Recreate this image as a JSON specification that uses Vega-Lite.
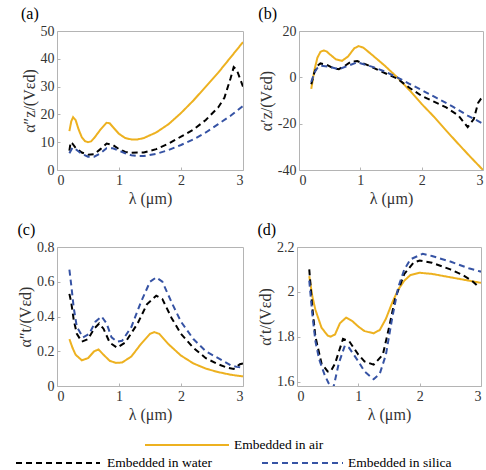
{
  "$schema": "https://vega.github.io/schema/vega-lite/v6.json",
  "padding": {"left": 15, "right": 1, "top": 5, "bottom": 0},
  "background": "white",
  "config": {
    "font": "Liberation Serif, serif",
    "view": {"stroke": "#b4b4b4", "strokeWidth": 1},
    "axis": {
      "domain": false,
      "grid": false,
      "ticks": true,
      "tickSize": -3,
      "tickColor": "#b4b4b4",
      "labelPadding": 6,
      "labelFont": "Liberation Serif, serif",
      "labelFontSize": 14,
      "labelColor": "#333333",
      "titleFont": "Liberation Serif, serif",
      "titleFontSize": 16,
      "titleFontWeight": "normal",
      "titleColor": "#333333",
      "titlePadding": 3
    },
    "title": {"font": "Liberation Serif, serif", "fontSize": 16, "fontWeight": "normal", "anchor": "start", "offset": 2, "color": "#000000"},
    "concat": {"spacing": 14}
  },
  "datasets": {
    "a": [
      {"x":0.2,"y":14,"s":"air"},{"x":0.23,"y":17.5,"s":"air"},{"x":0.26,"y":19,"s":"air"},{"x":0.3,"y":18,"s":"air"},{"x":0.35,"y":14.5,"s":"air"},{"x":0.4,"y":11.8,"s":"air"},{"x":0.45,"y":10.4,"s":"air"},{"x":0.5,"y":10,"s":"air"},{"x":0.55,"y":10.3,"s":"air"},{"x":0.6,"y":11.5,"s":"air"},{"x":0.7,"y":14.5,"s":"air"},{"x":0.8,"y":17,"s":"air"},{"x":0.85,"y":16.8,"s":"air"},{"x":0.9,"y":15.5,"s":"air"},{"x":1.0,"y":13,"s":"air"},{"x":1.1,"y":11.5,"s":"air"},{"x":1.2,"y":11,"s":"air"},{"x":1.3,"y":11,"s":"air"},{"x":1.4,"y":11.5,"s":"air"},{"x":1.5,"y":12.5,"s":"air"},{"x":1.6,"y":13.5,"s":"air"},{"x":1.8,"y":16.5,"s":"air"},{"x":2.0,"y":20.5,"s":"air"},{"x":2.2,"y":25,"s":"air"},{"x":2.4,"y":30,"s":"air"},{"x":2.6,"y":35,"s":"air"},{"x":2.8,"y":40.5,"s":"air"},{"x":3.0,"y":46,"s":"air"},
      {"x":0.2,"y":7,"s":"water"},{"x":0.22,"y":10,"s":"water"},{"x":0.25,"y":9.5,"s":"water"},{"x":0.3,"y":8,"s":"water"},{"x":0.4,"y":6.3,"s":"water"},{"x":0.5,"y":5.5,"s":"water"},{"x":0.6,"y":5.7,"s":"water"},{"x":0.7,"y":7.5,"s":"water"},{"x":0.8,"y":9.5,"s":"water"},{"x":0.9,"y":9,"s":"water"},{"x":1.0,"y":7.5,"s":"water"},{"x":1.1,"y":6.5,"s":"water"},{"x":1.2,"y":6.2,"s":"water"},{"x":1.4,"y":6.3,"s":"water"},{"x":1.6,"y":7.5,"s":"water"},{"x":1.8,"y":9.5,"s":"water"},{"x":2.0,"y":12,"s":"water"},{"x":2.2,"y":14.5,"s":"water"},{"x":2.4,"y":18,"s":"water"},{"x":2.6,"y":22.5,"s":"water"},{"x":2.7,"y":26,"s":"water"},{"x":2.8,"y":33,"s":"water"},{"x":2.85,"y":37,"s":"water"},{"x":2.9,"y":36,"s":"water"},{"x":2.95,"y":33,"s":"water"},{"x":3.0,"y":30,"s":"water"},
      {"x":0.2,"y":6,"s":"silica"},{"x":0.25,"y":8,"s":"silica"},{"x":0.3,"y":7.5,"s":"silica"},{"x":0.4,"y":5.8,"s":"silica"},{"x":0.5,"y":4.8,"s":"silica"},{"x":0.6,"y":4.8,"s":"silica"},{"x":0.7,"y":6,"s":"silica"},{"x":0.8,"y":7.8,"s":"silica"},{"x":0.9,"y":7.8,"s":"silica"},{"x":1.0,"y":7,"s":"silica"},{"x":1.1,"y":6,"s":"silica"},{"x":1.2,"y":5.3,"s":"silica"},{"x":1.3,"y":5,"s":"silica"},{"x":1.4,"y":5,"s":"silica"},{"x":1.6,"y":5.8,"s":"silica"},{"x":1.8,"y":7.2,"s":"silica"},{"x":2.0,"y":9,"s":"silica"},{"x":2.2,"y":11,"s":"silica"},{"x":2.4,"y":13.5,"s":"silica"},{"x":2.6,"y":16.5,"s":"silica"},{"x":2.8,"y":19.5,"s":"silica"},{"x":3.0,"y":23,"s":"silica"}
    ],
    "b": [
      {"x":0.2,"y":-5,"s":"air"},{"x":0.25,"y":3,"s":"air"},{"x":0.3,"y":8.5,"s":"air"},{"x":0.35,"y":11,"s":"air"},{"x":0.4,"y":11.6,"s":"air"},{"x":0.45,"y":11.2,"s":"air"},{"x":0.5,"y":10,"s":"air"},{"x":0.6,"y":7.8,"s":"air"},{"x":0.7,"y":7.1,"s":"air"},{"x":0.8,"y":9,"s":"air"},{"x":0.9,"y":12.5,"s":"air"},{"x":0.97,"y":13.5,"s":"air"},{"x":1.05,"y":12.8,"s":"air"},{"x":1.2,"y":9.5,"s":"air"},{"x":1.4,"y":5,"s":"air"},{"x":1.6,"y":0,"s":"air"},{"x":1.8,"y":-5.5,"s":"air"},{"x":2.0,"y":-11.5,"s":"air"},{"x":2.2,"y":-17,"s":"air"},{"x":2.4,"y":-23,"s":"air"},{"x":2.6,"y":-28.8,"s":"air"},{"x":2.8,"y":-34.5,"s":"air"},{"x":3.0,"y":-40,"s":"air"},
      {"x":0.2,"y":-3,"s":"water"},{"x":0.25,"y":2,"s":"water"},{"x":0.3,"y":5,"s":"water"},{"x":0.35,"y":6,"s":"water"},{"x":0.45,"y":5.5,"s":"water"},{"x":0.55,"y":4,"s":"water"},{"x":0.65,"y":3.5,"s":"water"},{"x":0.75,"y":5,"s":"water"},{"x":0.85,"y":6.8,"s":"water"},{"x":0.95,"y":7,"s":"water"},{"x":1.1,"y":5.5,"s":"water"},{"x":1.3,"y":3,"s":"water"},{"x":1.6,"y":-0.5,"s":"water"},{"x":1.8,"y":-4.5,"s":"water"},{"x":2.0,"y":-8,"s":"water"},{"x":2.2,"y":-10.5,"s":"water"},{"x":2.4,"y":-13,"s":"water"},{"x":2.6,"y":-16.5,"s":"water"},{"x":2.75,"y":-21.5,"s":"water"},{"x":2.85,"y":-18,"s":"water"},{"x":2.92,"y":-11,"s":"water"},{"x":2.96,"y":-9.5,"s":"water"},{"x":3.0,"y":-10.5,"s":"water"},
      {"x":0.2,"y":-2,"s":"silica"},{"x":0.25,"y":2,"s":"silica"},{"x":0.3,"y":4,"s":"silica"},{"x":0.35,"y":5,"s":"silica"},{"x":0.5,"y":4.5,"s":"silica"},{"x":0.65,"y":3.5,"s":"silica"},{"x":0.8,"y":5,"s":"silica"},{"x":0.95,"y":6.5,"s":"silica"},{"x":1.2,"y":4.5,"s":"silica"},{"x":1.4,"y":2.5,"s":"silica"},{"x":1.6,"y":0,"s":"silica"},{"x":1.8,"y":-2.8,"s":"silica"},{"x":2.0,"y":-5.5,"s":"silica"},{"x":2.25,"y":-9,"s":"silica"},{"x":2.5,"y":-12.5,"s":"silica"},{"x":2.75,"y":-16.5,"s":"silica"},{"x":3.0,"y":-20,"s":"silica"}
    ],
    "c": [
      {"x":0.2,"y":0.27,"s":"air"},{"x":0.25,"y":0.22,"s":"air"},{"x":0.3,"y":0.18,"s":"air"},{"x":0.4,"y":0.148,"s":"air"},{"x":0.5,"y":0.16,"s":"air"},{"x":0.6,"y":0.2,"s":"air"},{"x":0.67,"y":0.21,"s":"air"},{"x":0.75,"y":0.18,"s":"air"},{"x":0.85,"y":0.145,"s":"air"},{"x":0.95,"y":0.133,"s":"air"},{"x":1.05,"y":0.135,"s":"air"},{"x":1.2,"y":0.17,"s":"air"},{"x":1.35,"y":0.24,"s":"air"},{"x":1.5,"y":0.3,"s":"air"},{"x":1.57,"y":0.31,"s":"air"},{"x":1.65,"y":0.3,"s":"air"},{"x":1.8,"y":0.24,"s":"air"},{"x":2.0,"y":0.175,"s":"air"},{"x":2.2,"y":0.13,"s":"air"},{"x":2.4,"y":0.1,"s":"air"},{"x":2.6,"y":0.08,"s":"air"},{"x":2.8,"y":0.065,"s":"air"},{"x":3.0,"y":0.055,"s":"air"},
      {"x":0.2,"y":0.53,"s":"water"},{"x":0.23,"y":0.48,"s":"water"},{"x":0.27,"y":0.38,"s":"water"},{"x":0.32,"y":0.3,"s":"water"},{"x":0.4,"y":0.255,"s":"water"},{"x":0.5,"y":0.27,"s":"water"},{"x":0.6,"y":0.33,"s":"water"},{"x":0.68,"y":0.36,"s":"water"},{"x":0.75,"y":0.33,"s":"water"},{"x":0.85,"y":0.25,"s":"water"},{"x":0.97,"y":0.22,"s":"water"},{"x":1.1,"y":0.25,"s":"water"},{"x":1.3,"y":0.36,"s":"water"},{"x":1.45,"y":0.47,"s":"water"},{"x":1.6,"y":0.52,"s":"water"},{"x":1.7,"y":0.5,"s":"water"},{"x":1.85,"y":0.39,"s":"water"},{"x":2.0,"y":0.3,"s":"water"},{"x":2.2,"y":0.22,"s":"water"},{"x":2.4,"y":0.16,"s":"water"},{"x":2.6,"y":0.125,"s":"water"},{"x":2.75,"y":0.105,"s":"water"},{"x":2.85,"y":0.098,"s":"water"},{"x":2.95,"y":0.125,"s":"water"},{"x":3.0,"y":0.13,"s":"water"},
      {"x":0.2,"y":0.67,"s":"silica"},{"x":0.23,"y":0.58,"s":"silica"},{"x":0.27,"y":0.45,"s":"silica"},{"x":0.32,"y":0.34,"s":"silica"},{"x":0.42,"y":0.28,"s":"silica"},{"x":0.52,"y":0.3,"s":"silica"},{"x":0.62,"y":0.37,"s":"silica"},{"x":0.72,"y":0.4,"s":"silica"},{"x":0.8,"y":0.36,"s":"silica"},{"x":0.88,"y":0.28,"s":"silica"},{"x":0.97,"y":0.255,"s":"silica"},{"x":1.05,"y":0.26,"s":"silica"},{"x":1.2,"y":0.34,"s":"silica"},{"x":1.35,"y":0.48,"s":"silica"},{"x":1.5,"y":0.6,"s":"silica"},{"x":1.6,"y":0.625,"s":"silica"},{"x":1.7,"y":0.6,"s":"silica"},{"x":1.85,"y":0.48,"s":"silica"},{"x":2.0,"y":0.37,"s":"silica"},{"x":2.2,"y":0.27,"s":"silica"},{"x":2.4,"y":0.2,"s":"silica"},{"x":2.6,"y":0.16,"s":"silica"},{"x":2.8,"y":0.12,"s":"silica"},{"x":2.9,"y":0.11,"s":"silica"},{"x":3.0,"y":0.105,"s":"silica"}
    ],
    "d": [
      {"x":0.2,"y":2.07,"s":"air"},{"x":0.25,"y":1.98,"s":"air"},{"x":0.3,"y":1.92,"s":"air"},{"x":0.4,"y":1.84,"s":"air"},{"x":0.5,"y":1.805,"s":"air"},{"x":0.55,"y":1.8,"s":"air"},{"x":0.62,"y":1.81,"s":"air"},{"x":0.7,"y":1.86,"s":"air"},{"x":0.8,"y":1.885,"s":"air"},{"x":0.9,"y":1.87,"s":"air"},{"x":1.0,"y":1.845,"s":"air"},{"x":1.1,"y":1.825,"s":"air"},{"x":1.25,"y":1.815,"s":"air"},{"x":1.35,"y":1.83,"s":"air"},{"x":1.45,"y":1.88,"s":"air"},{"x":1.55,"y":1.95,"s":"air"},{"x":1.65,"y":2.01,"s":"air"},{"x":1.75,"y":2.05,"s":"air"},{"x":1.85,"y":2.075,"s":"air"},{"x":2.0,"y":2.085,"s":"air"},{"x":2.2,"y":2.08,"s":"air"},{"x":2.4,"y":2.07,"s":"air"},{"x":2.6,"y":2.06,"s":"air"},{"x":2.8,"y":2.05,"s":"air"},{"x":3.0,"y":2.04,"s":"air"},
      {"x":0.2,"y":2.1,"s":"water"},{"x":0.25,"y":1.93,"s":"water"},{"x":0.3,"y":1.8,"s":"water"},{"x":0.4,"y":1.68,"s":"water"},{"x":0.5,"y":1.645,"s":"water"},{"x":0.55,"y":1.645,"s":"water"},{"x":0.62,"y":1.68,"s":"water"},{"x":0.75,"y":1.79,"s":"water"},{"x":0.85,"y":1.78,"s":"water"},{"x":1.0,"y":1.72,"s":"water"},{"x":1.1,"y":1.69,"s":"water"},{"x":1.25,"y":1.675,"s":"water"},{"x":1.4,"y":1.72,"s":"water"},{"x":1.5,"y":1.84,"s":"water"},{"x":1.6,"y":1.97,"s":"water"},{"x":1.75,"y":2.08,"s":"water"},{"x":1.9,"y":2.13,"s":"water"},{"x":2.0,"y":2.14,"s":"water"},{"x":2.2,"y":2.13,"s":"water"},{"x":2.5,"y":2.1,"s":"water"},{"x":2.7,"y":2.075,"s":"water"},{"x":2.85,"y":2.05,"s":"water"},{"x":2.95,"y":2.025,"s":"water"},
      {"x":0.2,"y":2.05,"s":"silica"},{"x":0.25,"y":1.9,"s":"silica"},{"x":0.3,"y":1.78,"s":"silica"},{"x":0.36,"y":1.7,"s":"silica"},{"x":0.45,"y":1.63,"s":"silica"},{"x":0.52,"y":1.59,"s":"silica"},{"x":0.56,"y":1.57,"s":"silica"},{"x":0.6,"y":1.58,"s":"silica"},{"x":0.68,"y":1.68,"s":"silica"},{"x":0.78,"y":1.76,"s":"silica"},{"x":0.85,"y":1.75,"s":"silica"},{"x":1.0,"y":1.69,"s":"silica"},{"x":1.1,"y":1.645,"s":"silica"},{"x":1.25,"y":1.61,"s":"silica"},{"x":1.35,"y":1.635,"s":"silica"},{"x":1.45,"y":1.72,"s":"silica"},{"x":1.55,"y":1.88,"s":"silica"},{"x":1.65,"y":2.02,"s":"silica"},{"x":1.75,"y":2.1,"s":"silica"},{"x":1.85,"y":2.145,"s":"silica"},{"x":2.05,"y":2.17,"s":"silica"},{"x":2.2,"y":2.16,"s":"silica"},{"x":2.5,"y":2.135,"s":"silica"},{"x":2.8,"y":2.105,"s":"silica"},{"x":3.0,"y":2.09,"s":"silica"}
    ],
    "leg": [
      {"s":"air","x":88,"x2":172,"tx":177,"row":8,"label":"Embedded in air"},
      {"s":"water","x":-41,"x2":43,"tx":50,"row":26,"label":"Embedded in water"},
      {"s":"silica","x":205,"x2":286,"tx":291,"row":26,"label":"Embedded in silica"}
    ]
  },
  "vconcat": [
    {
      "hconcat": [
        {
          "title": "(a)",
          "width": 186, "height": 139,
          "data": {"name": "a"},
          "mark": {"type": "line", "strokeWidth": 2, "clip": true},
          "encoding": {
            "x": {"field": "x", "type": "quantitative", "scale": {"domain": [0, 3], "nice": false}, "axis": {"values": [0, 1, 2, 3], "title": "λ (μm)"}},
            "y": {"field": "y", "type": "quantitative", "scale": {"domain": [0, 50], "nice": false}, "axis": {"values": [0, 10, 20, 30, 40, 50], "labelExpr": "'' + datum.value", "title": "α″z/(Vεd)"}},
            "color": {"field": "s", "type": "nominal", "scale": {"domain": ["air", "water", "silica"], "range": ["#EDB120", "#000000", "#3653A4"]}, "legend": null},
            "strokeDash": {"field": "s", "type": "nominal", "scale": {"domain": ["air", "water", "silica"], "range": [[1, 0], [6, 4], [6, 4]]}, "legend": null}
          }
        },
        {
          "title": "(b)",
          "width": 184, "height": 139,
          "data": {"name": "b"},
          "mark": {"type": "line", "strokeWidth": 2, "clip": true},
          "encoding": {
            "x": {"field": "x", "type": "quantitative", "scale": {"domain": [0, 3], "nice": false}, "axis": {"values": [0, 1, 2, 3], "title": "λ (μm)"}},
            "y": {"field": "y", "type": "quantitative", "scale": {"domain": [-40, 20], "nice": false}, "axis": {"values": [-40, -20, 0, 20], "labelExpr": "'' + datum.value", "title": "α′z/(Vεd)"}},
            "color": {"field": "s", "type": "nominal", "scale": {"domain": ["air", "water", "silica"], "range": ["#EDB120", "#000000", "#3653A4"]}, "legend": null},
            "strokeDash": {"field": "s", "type": "nominal", "scale": {"domain": ["air", "water", "silica"], "range": [[1, 0], [6, 4], [6, 4]]}, "legend": null}
          }
        }
      ],
      "spacing": 13
    },
    {
      "hconcat": [
        {
          "title": "(c)",
          "width": 186, "height": 139,
          "data": {"name": "c"},
          "mark": {"type": "line", "strokeWidth": 2, "clip": true},
          "encoding": {
            "x": {"field": "x", "type": "quantitative", "scale": {"domain": [0, 3], "nice": false}, "axis": {"values": [0, 1, 2, 3], "title": "λ (μm)"}},
            "y": {"field": "y", "type": "quantitative", "scale": {"domain": [0, 0.8], "nice": false}, "axis": {"values": [0, 0.2, 0.4, 0.6, 0.8], "labelExpr": "'' + datum.value", "title": "α″t/(Vεd)"}},
            "color": {"field": "s", "type": "nominal", "scale": {"domain": ["air", "water", "silica"], "range": ["#EDB120", "#000000", "#3653A4"]}, "legend": null},
            "strokeDash": {"field": "s", "type": "nominal", "scale": {"domain": ["air", "water", "silica"], "range": [[1, 0], [6, 4], [6, 4]]}, "legend": null}
          }
        },
        {
          "title": "(d)",
          "width": 184, "height": 139,
          "data": {"name": "d"},
          "mark": {"type": "line", "strokeWidth": 2, "clip": true},
          "encoding": {
            "x": {"field": "x", "type": "quantitative", "scale": {"domain": [0, 3], "nice": false}, "axis": {"values": [0, 1, 2, 3], "title": "λ (μm)"}},
            "y": {"field": "y", "type": "quantitative", "scale": {"domain": [1.58, 2.2], "nice": false, "zero": false}, "axis": {"values": [1.6, 1.8, 2, 2.2], "labelExpr": "'' + datum.value", "title": "α′t/(Vεd)"}},
            "color": {"field": "s", "type": "nominal", "scale": {"domain": ["air", "water", "silica"], "range": ["#EDB120", "#000000", "#3653A4"]}, "legend": null},
            "strokeDash": {"field": "s", "type": "nominal", "scale": {"domain": ["air", "water", "silica"], "range": [[1, 0], [6, 4], [6, 4]]}, "legend": null}
          }
        }
      ],
      "spacing": 13
    },
    {
      "width": 420, "height": 34,
      "view": {"stroke": null},
      "data": {"name": "leg"},
      "layer": [
        {
          "mark": {"type": "rule", "strokeWidth": 2},
          "encoding": {
            "x": {"field": "x", "type": "quantitative", "scale": {"domain": [0, 420], "nice": false}, "axis": null},
            "x2": {"field": "x2"},
            "y": {"field": "row", "type": "quantitative", "scale": {"domain": [0, 34], "reverse": true, "nice": false}, "axis": null},
            "color": {"field": "s", "type": "nominal", "scale": {"domain": ["air", "water", "silica"], "range": ["#EDB120", "#000000", "#3653A4"]}, "legend": null},
            "strokeDash": {"field": "s", "type": "nominal", "scale": {"domain": ["air", "water", "silica"], "range": [[1, 0], [6, 4], [6, 4]]}, "legend": null}
          }
        },
        {
          "mark": {"type": "text", "align": "left", "baseline": "middle", "font": "Liberation Serif, serif", "fontSize": 13.5, "color": "#000000"},
          "encoding": {
            "x": {"field": "tx", "type": "quantitative", "scale": {"domain": [0, 420], "nice": false}, "axis": null},
            "y": {"field": "row", "type": "quantitative", "scale": {"domain": [0, 34], "reverse": true, "nice": false}, "axis": null},
            "text": {"field": "label"}
          }
        }
      ]
    }
  ]
}
